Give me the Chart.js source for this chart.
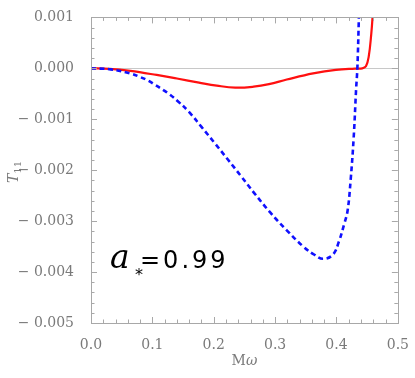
<!DOCTYPE html>
<html>
<head>
<meta charset="utf-8">
<script src="https://cdn.jsdelivr.net/npm/chart.js@4"></script>
<style>
  body { margin: 0; background: #fff; }
  #box { width: 415px; height: 378px; }
</style>
</head>
<body>
<div id="box"><canvas id="mychart"></canvas></div>
<script>
'use strict';

// red solid curve
const mwRed = [0, 0.03, 0.064, 0.107, 0.14, 0.176, 0.205, 0.235, 0.265, 0.29, 0.319, 0.362, 0.399, 0.43, 0.442, 0.448, 0.4525, 0.4567, 0.4587, 0.46];
const tRed = [0, -0.00001, -0.00005, -0.00013, -0.0002, -0.00028, -0.00034, -0.00038, -0.00036, -0.00031, -0.00022, -0.0001, -0.00003, -0.000005, 0, 0.00004, 0.00023, 0.00068, 0.001, 0.0013];

// blue dashed curve
const mwBlue = [0, 0.032, 0.064, 0.08, 0.093, 0.104, 0.117, 0.128, 0.141, 0.16, 0.18, 0.201, 0.223, 0.244, 0.266, 0.292, 0.319, 0.346, 0.364, 0.378, 0.394, 0.404, 0.412, 0.418, 0.423, 0.428, 0.432, 0.434, 0.4365, 0.437];
const tBlue = [0, -0.00002, -0.0001, -0.00017, -0.00024, -0.00032, -0.00042, -0.00051, -0.00064, -0.00086, -0.00115, -0.00146, -0.00179, -0.00211, -0.00245, -0.00283, -0.00318, -0.0035, -0.00366, -0.00374, -0.00366, -0.0034, -0.00308, -0.0028, -0.0022, -0.00136, -0.0004, 0, 0.001, 0.0012];

const xTicks = [0, 0.1, 0.2, 0.3, 0.4, 0.5];
const yTicks = [-0.005, -0.004, -0.003, -0.002, -0.001, 0, 0.001];
const label = 'a*=0.99';

const frameColor = '#a8a8a8';
const textColor = '#7a7a7a';
const tickFont = { family: 'DejaVu Serif', size: 14 };

function pts(xs, ys) {
  let out = [];
  for (let i = 0; i < xs.length; i++) out.push({ x: xs[i], y: ys[i] });
  return out;
}

// frame with inward ticks, zero line, axis titles and the a* label
const framePlugin = {
  id: 'frame',
  beforeDatasetsDraw(chart) {
    const ctx = chart.ctx;
    const a = chart.chartArea;
    const ys = chart.scales.y;
    ctx.save();
    ctx.strokeStyle = '#c8c8c8';
    ctx.lineWidth = 1;
    ctx.beginPath();
    const y0 = Math.round(ys.getPixelForValue(0)) + 0.5;
    ctx.moveTo(a.left, y0);
    ctx.lineTo(a.right, y0);
    ctx.stroke();
    ctx.restore();
  },
  afterDraw(chart) {
    const ctx = chart.ctx;
    const a = chart.chartArea;
    const xs = chart.scales.x;
    const ys = chart.scales.y;
    ctx.save();
    ctx.strokeStyle = frameColor;
    ctx.lineWidth = 1;
    ctx.strokeRect(Math.round(a.left) + 0.5, Math.round(a.top) + 0.5, Math.round(a.right - a.left), Math.round(a.bottom - a.top));
    ctx.beginPath();
    for (let i = 0; i <= 25; i++) {
      const v = i * 0.02;
      const px = Math.round(xs.getPixelForValue(v)) + 0.5;
      const len = (i % 5 === 0) ? 6 : 3.5;
      ctx.moveTo(px, a.bottom); ctx.lineTo(px, a.bottom - len);
      ctx.moveTo(px, a.top); ctx.lineTo(px, a.top + len);
    }
    for (let i = 0; i <= 30; i++) {
      const v = -0.005 + i * 0.0002;
      const py = Math.round(ys.getPixelForValue(v)) + 0.5;
      const len = (i % 5 === 0) ? 6 : 3.5;
      ctx.moveTo(a.left, py); ctx.lineTo(a.left + len, py);
      ctx.moveTo(a.right, py); ctx.lineTo(a.right - len, py);
    }
    ctx.stroke();

    // x title
    ctx.fillStyle = textColor;
    ctx.textBaseline = 'alphabetic';
    ctx.font = '14px "DejaVu Serif"';
    const mW = ctx.measureText('M').width;
    ctx.font = 'italic 14px "DejaVu Serif"';
    const wW = ctx.measureText('ω').width;
    let sx = (a.left + a.right) / 2 - (mW + wW) / 2;
    ctx.font = '14px "DejaVu Serif"';
    ctx.fillText('M', sx, 365);
    ctx.font = 'italic 14px "DejaVu Serif"';
    ctx.fillText('ω', sx + mW, 365);

    // y title
    ctx.save();
    ctx.translate(18, 172);
    ctx.rotate(-Math.PI / 2);
    ctx.font = 'italic 14px "DejaVu Serif"';
    const tW = ctx.measureText('T').width;
    ctx.font = '10px "DejaVu Serif"';
    const sW = ctx.measureText('11').width;
    ctx.font = 'italic 14px "DejaVu Serif"';
    ctx.fillText('T', -(tW + sW) / 2, 0);
    ctx.font = '10px "DejaVu Serif"';
    ctx.fillText('11', -(tW + sW) / 2 + tW, 3);
    ctx.restore();

    // a* label
    ctx.fillStyle = '#000';
    ctx.font = 'italic 33px "DejaVu Serif"';
    ctx.fillText(label[0], 110, 268);
    ctx.font = '16px "DejaVu Sans"';
    ctx.fillText(label[1], 135, 280);
    ctx.font = '24px "DejaVu Sans"';
    ctx.letterSpacing = '3px';
    ctx.fillText(label.slice(2), 140, 268);
    ctx.restore();
  }
};

const ctx = document.getElementById('mychart').getContext('2d');
new Chart(ctx, {
  type: 'scatter',
  data: {
    datasets: [{
      label: 'blue',
      data: pts(mwBlue, tBlue),
      showLine: true,
      borderColor: '#1010ff',
      borderWidth: 2.6,
      borderDash: [5, 3.5],
      pointRadius: 0,
      tension: 0.4,
      clip: 0
    }, {
      label: 'red',
      data: pts(mwRed, tRed),
      showLine: true,
      borderColor: '#ff1010',
      borderWidth: 2.2,
      pointRadius: 0,
      tension: 0.4,
      clip: 0
    }]
  },
  options: {
    responsive: true,
    maintainAspectRatio: false,
    animation: false,
    layout: { padding: { left: 0, right: 12, top: 10, bottom: 0 } },
    plugins: { legend: { display: false }, tooltip: { enabled: false } },
    scales: {
      x: {
        type: 'linear',
        min: 0, max: 0.5,
        afterFit(s) { s.height = 55; },
        afterBuildTicks(s) { s.ticks = xTicks.map(v => ({ value: v })); },
        grid: { display: false },
        border: { display: false },
        ticks: {
          autoSkip: false,
          maxRotation: 0,
          padding: 6,
          color: textColor,
          font: tickFont,
          callback: v => v.toFixed(1)
        }
      },
      y: {
        type: 'linear',
        min: -0.005, max: 0.001,
        afterFit(s) { s.width = 91; },
        afterBuildTicks(s) { s.ticks = yTicks.map(v => ({ value: v })); },
        grid: { display: false },
        border: { display: false },
        ticks: {
          autoSkip: false,
          padding: 9,
          color: textColor,
          font: tickFont,
          callback: v => (v < -1e-9 ? '\u2212 ' : '') + Math.abs(v).toFixed(3)
        }
      }
    }
  },
  plugins: [framePlugin]
});
</script>
</body>
</html>
